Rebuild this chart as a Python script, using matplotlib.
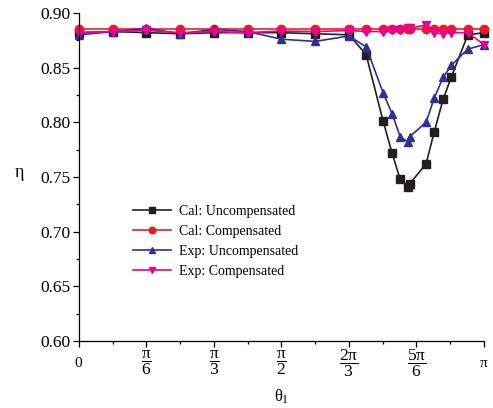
import numpy as np
import matplotlib
matplotlib.use("Agg")
import matplotlib.pyplot as plt

plt.rcParams['font.family'] = ['Liberation Serif', 'DejaVu Serif']
plt.rcParams['mathtext.fontset'] = 'custom'
plt.rcParams['mathtext.rm'] = 'Liberation Serif'
plt.rcParams['mathtext.it'] = 'Liberation Serif'
plt.rcParams['mathtext.bf'] = 'Liberation Serif:bold'

# theta in units of pi
theta = [0, 1/12, 2/12, 3/12, 4/12, 5/12, 6/12, 7/12, 8/12,
         0.709, 0.751, 0.773, 0.793, 0.812, 0.817, 0.857, 0.877, 0.899, 0.919, 0.960, 1.0]

cal_uncomp = [0.882, 0.883, 0.882, 0.881, 0.882, 0.882, 0.882, 0.881, 0.880,
              0.862, 0.801, 0.772, 0.748, 0.741, 0.744, 0.762, 0.791, 0.821, 0.841, 0.880, 0.882]
cal_comp = [0.885, 0.885, 0.885, 0.885, 0.885, 0.885, 0.885, 0.885, 0.885,
            0.885, 0.885, 0.885, 0.885, 0.885, 0.885, 0.885, 0.885, 0.885, 0.885, 0.885, 0.885]
exp_uncomp = [0.880, 0.883, 0.886, 0.881, 0.885, 0.883, 0.876, 0.874, 0.879,
              0.869, 0.827, 0.808, 0.787, 0.782, 0.787, 0.800, 0.822, 0.841, 0.852, 0.867, 0.871]
exp_comp = [0.882, 0.883, 0.884, 0.882, 0.883, 0.882, 0.8835, 0.883, 0.884,
            0.883, 0.883, 0.884, 0.884, 0.886, 0.886, 0.889, 0.882, 0.881, 0.882, 0.882, 0.871]

labels = ['Cal: Uncompensated', 'Cal: Compensated', 'Exp: Uncompensated', 'Exp: Compensated']
colors = ['#231f20', '#ed1c24', '#2e3192', '#ec008c']
markers = ['s', 'o', '^', 'v']

xtick_labels = [r'$0$', r'$\dfrac{\pi}{6}$', r'$\dfrac{\pi}{3}$', r'$\dfrac{\pi}{2}$',
                r'$\dfrac{2\pi}{3}$', r'$\dfrac{5\pi}{6}$', r'$\pi$']

fig = plt.figure(figsize=(4.93, 4.08), dpi=100)
ax = fig.add_axes([0.1602, 0.1642, 0.8215, 0.804])

x = np.array(theta) * np.pi
for ys, c, m, lab in zip([cal_uncomp, cal_comp, exp_uncomp, exp_comp], colors, markers, labels):
    ax.plot(x, ys, color=c, marker=m, markersize=6, linewidth=1.2, label=lab, clip_on=False)

ax.set_xlim(0, np.pi)
ax.set_ylim(0.60, 0.90)
ax.set_xticks(np.arange(7) * np.pi / 6)
ax.set_xticks(np.arange(13) * np.pi / 12, minor=True)
ax.set_xticklabels(xtick_labels, fontsize=11)
for i, t in enumerate(ax.get_xticklabels()):
    t.set_verticalalignment('center')
    if 0 < i < 6:
        t.set_fontsize(12.6)
ax.set_yticks(np.arange(0.60, 0.901, 0.05))
ax.set_yticks(np.arange(0.60, 0.901, 0.025), minor=True)
ax.set_yticklabels(['%.2f' % v for v in np.arange(0.60, 0.901, 0.05)], fontsize=12.5)

for s in ['top', 'right']:
    ax.spines[s].set_visible(False)
for s in ['left', 'bottom']:
    ax.spines[s].set_linewidth(0.9)
ax.tick_params(axis='both', which='major', direction='out', length=4, width=0.9)
ax.tick_params(axis='both', which='minor', direction='out', length=2, width=0.9)
ax.tick_params(axis='x', which='major', pad=12)
ax.tick_params(axis='y', which='major', pad=2)

ax.set_ylabel('η', fontsize=13, rotation=0, va='center', ha='center')
ax.yaxis.set_label_coords(-0.146, 0.515)
ax.set_xlabel(r'$\theta_1$', fontsize=12, va='center')
ax.xaxis.set_label_coords(0.5, -0.171)

ax.legend(loc='upper left', bbox_to_anchor=(0.133, 0.415), frameon=False, fontsize=10,
          handlelength=2.75, handletextpad=0.6, labelspacing=0.5, borderpad=0, borderaxespad=0,
          markerscale=0.8)

fig.savefig('out.png', dpi=100)
